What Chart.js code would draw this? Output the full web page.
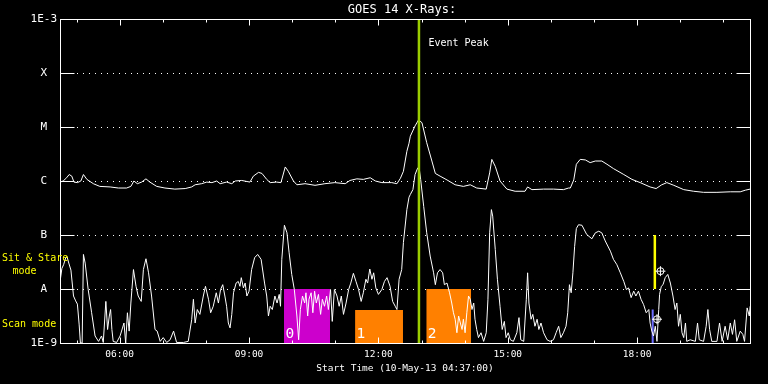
<!DOCTYPE html>
<html><head><meta charset="utf-8">
<script src="https://cdn.jsdelivr.net/npm/chart.js"></script>
<style>html,body{margin:0;padding:0;background:#000;overflow:hidden}</style>
</head><body>
<canvas id="c" width="768" height="384"></canvas>
<script>
// ---- axis definitions ----
const startHour = 4 + 37/60;           // 04:37
const endHour = startHour + 16;
const yLevels = [-9, -8, -7, -6, -5, -4, -3];   // log10 flux (W/m^2)
const yLabels = ['1E-9', 'A', 'B', 'C', 'M', 'X', '1E-3'];
const xTickHours = [6, 9, 12, 15, 18];
const xTickLabels = ['06:00', '09:00', '12:00', '15:00', '18:00'];
const titleText = 'GOES 14 X-Rays:';
const xAxisTitle = 'Start Time (10-May-13 04:37:00)';

// ---- 1-8 A channel (upper curve): hour of day, log10 flux ----
const longTimes = [4.62,4.69,4.77,4.83,4.89,4.94,5.02,5.10,5.16,5.24,5.39,5.54,5.78,5.97,6.16,6.26,6.33,6.41,6.51,6.61,6.70,6.86,7.05,7.28,7.52,7.67,7.75,7.90,8.02,8.14,8.25,8.33,8.48,8.60,8.68,8.83,9.02,9.10,9.22,9.30,9.41,9.49,9.64,9.74,9.84,9.91,10.03,10.11,10.30,10.53,10.76,10.99,11.23,11.34,11.50,11.65,11.81,11.93,12.08,12.31,12.43,12.51,12.58,12.66,12.71,12.74,12.85,12.93,13.01,13.12,13.24,13.32,13.43,13.59,13.78,13.97,14.13,14.28,14.50,14.58,14.63,14.71,14.82,14.98,15.17,15.40,15.46,15.56,15.83,16.06,16.29,16.41,16.45,16.53,16.59,16.68,16.80,16.91,17.03,17.18,17.30,17.45,17.69,17.88,18.07,18.30,18.44,18.57,18.69,18.85,19.08,19.31,19.54,19.85,20.16,20.39,20.51,20.62];
const longLog = [-6.02,-6.00,-5.94,-5.88,-5.91,-6.02,-6.03,-6.00,-5.88,-5.97,-6.05,-6.10,-6.11,-6.13,-6.13,-6.10,-6.00,-6.05,-6.02,-5.96,-6.02,-6.10,-6.13,-6.15,-6.14,-6.11,-6.07,-6.05,-6.02,-6.03,-6.00,-6.05,-6.02,-6.05,-6.00,-5.99,-6.02,-5.91,-5.84,-5.86,-5.97,-6.03,-6.02,-6.03,-5.74,-5.82,-6.00,-6.07,-6.05,-6.08,-6.05,-6.03,-6.05,-5.99,-5.96,-5.97,-5.94,-6.00,-6.03,-6.03,-6.05,-5.95,-5.82,-5.45,-5.30,-5.17,-4.98,-4.87,-4.92,-5.29,-5.63,-5.86,-5.91,-5.98,-6.07,-6.10,-6.07,-6.13,-6.15,-5.85,-5.60,-5.73,-6.00,-6.15,-6.19,-6.19,-6.11,-6.16,-6.15,-6.15,-6.16,-6.13,-6.13,-5.98,-5.69,-5.60,-5.61,-5.66,-5.63,-5.63,-5.69,-5.77,-5.88,-5.97,-6.03,-6.11,-6.14,-6.07,-6.03,-6.08,-6.16,-6.19,-6.21,-6.21,-6.20,-6.20,-6.17,-6.15];

// ---- 0.5-4 A channel (lower curve): hour of day, log10 flux ----
const shortTimes = [4.62,4.66,4.70,4.75,4.78,4.82,4.87,4.93,4.98,5.02,5.06,5.09,5.13,5.16,5.20,5.27,5.35,5.43,5.51,5.58,5.62,5.68,5.72,5.76,5.79,5.82,5.85,5.93,6.01,6.10,6.14,6.18,6.22,6.26,6.32,6.38,6.43,6.50,6.55,6.61,6.67,6.74,6.82,6.87,6.94,7.01,7.09,7.17,7.25,7.32,7.48,7.59,7.67,7.71,7.75,7.80,7.86,7.94,7.99,8.06,8.11,8.17,8.24,8.29,8.34,8.39,8.44,8.48,8.52,8.56,8.60,8.64,8.70,8.75,8.79,8.82,8.87,8.91,8.95,9.00,9.06,9.13,9.20,9.28,9.36,9.41,9.45,9.49,9.54,9.60,9.65,9.70,9.73,9.76,9.82,9.88,9.93,9.99,10.05,10.11,10.15,10.19,10.24,10.29,10.32,10.36,10.39,10.44,10.48,10.52,10.56,10.61,10.66,10.70,10.75,10.80,10.84,10.89,10.93,10.98,11.04,11.09,11.14,11.19,11.25,11.31,11.36,11.42,11.48,11.54,11.60,11.65,11.71,11.75,11.80,11.85,11.89,11.94,12.00,12.08,12.14,12.20,12.27,12.33,12.39,12.43,12.48,12.54,12.58,12.66,12.71,12.74,12.80,12.85,12.91,12.95,12.98,13.05,13.12,13.20,13.28,13.32,13.37,13.43,13.49,13.53,13.59,13.65,13.70,13.74,13.78,13.82,13.86,13.90,13.94,13.97,14.01,14.05,14.09,14.13,14.17,14.21,14.24,14.28,14.32,14.38,14.44,14.50,14.54,14.58,14.62,14.65,14.71,14.76,14.82,14.87,14.92,14.96,15.01,15.06,15.13,15.21,15.26,15.30,15.37,15.43,15.46,15.49,15.54,15.58,15.63,15.68,15.72,15.77,15.83,15.91,15.98,16.06,16.12,16.18,16.23,16.29,16.35,16.39,16.43,16.47,16.51,16.55,16.59,16.64,16.72,16.83,16.95,17.03,17.11,17.18,17.26,17.38,17.45,17.53,17.61,17.69,17.75,17.80,17.86,17.92,17.97,18.03,18.09,18.15,18.21,18.27,18.30,18.34,18.38,18.42,18.46,18.50,18.52,18.56,18.60,18.65,18.71,18.77,18.83,18.88,18.92,18.96,19.00,19.04,19.08,19.12,19.15,19.23,19.35,19.40,19.44,19.54,19.60,19.64,19.68,19.73,19.85,19.91,19.97,20.04,20.10,20.16,20.21,20.26,20.31,20.39,20.45,20.49,20.55,20.60,20.62];
const shortLog = [-7.85,-7.62,-7.55,-7.42,-7.40,-7.52,-7.65,-8.13,-8.22,-8.28,-8.65,-9.0,-9.0,-7.36,-7.52,-8.01,-8.44,-8.87,-8.97,-8.87,-8.99,-8.23,-8.75,-8.50,-8.38,-8.75,-8.97,-8.99,-8.87,-8.63,-9.0,-8.44,-8.78,-8.26,-7.64,-7.95,-8.13,-8.23,-7.64,-7.44,-7.70,-8.13,-8.75,-8.78,-8.97,-8.90,-8.99,-8.94,-8.78,-8.99,-8.99,-8.97,-8.57,-8.19,-8.63,-8.38,-8.47,-8.13,-7.95,-8.19,-8.44,-8.32,-8.07,-8.26,-8.01,-7.92,-8.13,-8.32,-8.63,-8.72,-8.47,-8.07,-7.89,-7.86,-7.95,-7.79,-7.98,-7.89,-8.13,-8.04,-7.64,-7.42,-7.36,-7.45,-7.89,-8.13,-8.50,-8.32,-8.38,-8.13,-8.26,-8.10,-8.32,-7.45,-6.82,-6.96,-7.33,-7.73,-8.01,-8.50,-8.94,-8.38,-8.13,-8.26,-8.07,-8.50,-8.19,-8.07,-8.44,-8.04,-8.26,-8.10,-8.47,-8.19,-8.32,-8.13,-8.38,-8.01,-8.60,-8.01,-8.13,-8.32,-8.13,-8.47,-8.26,-8.01,-7.89,-7.71,-7.86,-8.01,-8.23,-8.07,-7.82,-7.89,-7.63,-7.82,-7.70,-7.98,-8.10,-8.01,-7.86,-7.79,-7.95,-8.23,-8.32,-8.38,-7.82,-7.64,-7.14,-6.53,-6.30,-6.25,-6.16,-5.88,-5.76,-5.79,-5.97,-6.47,-6.96,-7.39,-7.70,-7.92,-7.70,-7.64,-7.70,-7.92,-7.89,-8.07,-8.26,-8.44,-8.56,-8.81,-8.50,-8.63,-8.75,-8.56,-8.81,-8.44,-8.13,-8.19,-8.38,-8.26,-8.56,-8.75,-8.90,-8.81,-8.97,-8.81,-8.19,-6.96,-6.53,-6.65,-7.27,-7.82,-8.32,-8.75,-8.60,-8.90,-8.81,-8.94,-8.97,-8.81,-8.53,-8.94,-8.97,-8.19,-7.70,-8.26,-8.56,-8.47,-8.69,-8.56,-8.75,-8.63,-8.81,-8.94,-8.97,-8.94,-8.81,-8.69,-8.90,-8.81,-8.69,-8.44,-7.92,-8.07,-7.70,-7.21,-6.88,-6.81,-6.82,-6.99,-7.07,-6.96,-6.93,-6.96,-7.11,-7.30,-7.45,-7.55,-7.70,-7.86,-8.01,-7.98,-8.16,-8.04,-8.13,-8.04,-8.19,-8.29,-8.44,-8.38,-8.63,-8.78,-8.87,-8.69,-8.97,-8.38,-8.10,-7.95,-7.92,-7.79,-7.73,-7.89,-8.13,-8.38,-8.26,-8.69,-8.47,-8.81,-8.90,-8.63,-8.97,-8.94,-8.97,-8.63,-8.94,-8.97,-8.69,-8.38,-8.75,-8.97,-8.97,-8.63,-8.97,-8.69,-8.94,-8.63,-8.84,-8.57,-8.97,-8.78,-8.84,-8.97,-8.35,-8.50,-8.32];

// ---- annotations ----
const eventPeakHour = 12.94;
const eventLabel = 'Event Peak';
const boxStarts = [9.81, 11.46, 13.11];
const boxEnds = [10.88, 12.57, 14.15];
const boxTops = [-8.0, -8.39, -8.0];
const boxLabels = ['0', '1', '2'];
const boxColors = ['#cc00cc', '#ff8000', '#ff8000'];
const sitStareHour = 18.41, sitStareRange = [-7.0, -8.0];
const scanHour = 18.36, scanRange = [-8.38, -9.0];
const markerTimes = [18.54, 18.46];
const markerLog = [-7.67, -8.56];

const MONO = '"DejaVu Sans Mono", monospace';
const pts = (xs, ys) => xs.map((x, i) => ({x: x, y: ys[i]}));

const datasets = [];
boxStarts.forEach((s, i) => datasets.push({
  data: [{x: s, y: boxTops[i]}, {x: boxEnds[i], y: boxTops[i]}],
  fill: 'start', backgroundColor: boxColors[i], borderColor: 'rgba(0,0,0,0)', borderWidth: 0,
  pointRadius: 0, order: 10
}));
datasets.push({data: [{x: scanHour, y: scanRange[0]}, {x: scanHour, y: scanRange[1]}],
  borderColor: '#6f6fff', borderWidth: 2, pointRadius: 0, fill: false, order: 9});
datasets.push({data: pts(longTimes, longLog), borderColor: '#ffffff', borderWidth: 1, pointRadius: 0, fill: false, tension: 0, order: 5});
datasets.push({data: pts(shortTimes, shortLog), borderColor: '#ffffff', borderWidth: 1, pointRadius: 0, fill: false, tension: 0, order: 5});
datasets.push({data: [{x: sitStareHour, y: sitStareRange[0]}, {x: sitStareHour, y: sitStareRange[1]}],
  borderColor: '#ffff00', borderWidth: 2.5, pointRadius: 0, fill: false, order: 2});
datasets.push({data: [{x: eventPeakHour, y: -9}, {x: eventPeakHour, y: -3}],
  borderColor: '#9acd00', borderWidth: 2.5, pointRadius: 0, fill: false, order: 1});
datasets.push({type: 'scatter', data: pts(markerTimes, markerLog), showLine: false,
  pointStyle: 'circle', pointRadius: 3.5, pointBorderColor: '#fff', pointBackgroundColor: 'rgba(0,0,0,0)', pointBorderWidth: 1, order: 0});
datasets.push({type: 'scatter', data: pts(markerTimes, markerLog), showLine: false,
  pointStyle: 'cross', pointRadius: 5, pointBorderColor: '#fff', pointBorderWidth: 1, order: 0});

const decor = {
  id: 'decor',
  beforeDraw(chart) {
    const {ctx, width, height} = chart;
    ctx.save(); ctx.fillStyle = '#000'; ctx.fillRect(0, 0, width, height); ctx.restore();
  },
  beforeDatasetsDraw(chart) {
    const {ctx, chartArea: a, scales: {y}} = chart;
    ctx.save();
    ctx.strokeStyle = '#fff'; ctx.lineWidth = 1; ctx.setLineDash([1, 5]);
    yLevels.slice(1, -1).forEach(v => {
      const py = Math.round(y.getPixelForValue(v)) + 0.5;
      ctx.beginPath(); ctx.moveTo(a.left + 17, py); ctx.lineTo(a.right - 14, py); ctx.stroke();
    });
    ctx.restore();
  },
  afterDatasetsDraw(chart) {
    const {ctx, chartArea: a, scales: {x, y}} = chart;
    ctx.save();
    ctx.strokeStyle = '#fff'; ctx.lineWidth = 1;
    const L = a.left + 0.5, R = Math.round(a.right) + 0.5, T = a.top + 0.5, B = Math.round(a.bottom) + 0.5;
    ctx.strokeRect(L, T, R - L, B - T);
    ctx.beginPath();
    yLevels.forEach(v => {
      const py = Math.round(y.getPixelForValue(v)) + 0.5;
      ctx.moveTo(L, py); ctx.lineTo(L + 14, py);
      ctx.moveTo(R, py); ctx.lineTo(R - 14, py);
    });
    for (let h = Math.ceil(startHour); h <= endHour; h++) {
      const px = Math.round(x.getPixelForValue(h)) + 0.5;
      const len = (h % 3 === 0) ? 6 : 3;
      ctx.moveTo(px, T); ctx.lineTo(px, T + len);
      ctx.moveTo(px, B); ctx.lineTo(px, B - len);
    }
    ctx.stroke();

    // title
    ctx.fillStyle = '#fff';
    ctx.font = '12px ' + MONO; ctx.textAlign = 'center'; ctx.textBaseline = 'middle';
    ctx.fillText(titleText, (a.left + a.right) / 2 - 3, 9.5);
    // event peak label
    ctx.font = '10px ' + MONO; ctx.textAlign = 'left';
    ctx.fillText(eventLabel, x.getPixelForValue(eventPeakHour) + 9.5, a.top + 24);
    // box numbers
    ctx.font = '14.5px ' + MONO; ctx.textBaseline = 'alphabetic';
    boxStarts.forEach((s, i) => ctx.fillText(boxLabels[i], x.getPixelForValue(s) + 1.5, y.getPixelForValue(-9) - 5));
    // mode labels
    ctx.fillStyle = '#ffff00'; ctx.font = '10px ' + MONO; ctx.textBaseline = 'middle';
    const ss = y.getPixelForValue((sitStareRange[0] + sitStareRange[1]) / 2);
    ctx.textAlign = 'left';
    ctx.fillText('Sit & Stare', 2, ss - 3.5);
    ctx.textAlign = 'center';
    ctx.fillText('mode', 24.5, ss + 9.5);
    ctx.textAlign = 'left';
    ctx.fillText('Scan mode', 2, y.getPixelForValue((scanRange[0] + scanRange[1]) / 2) - 2);
    ctx.restore();
  }
};

new Chart(document.getElementById('c'), {
  type: 'line',
  data: {datasets: datasets},
  options: {
    responsive: false, animation: false, devicePixelRatio: 1,
    layout: {padding: {left: 0, right: 18, top: 19, bottom: 0}},
    plugins: {legend: {display: false}, tooltip: {enabled: false}, title: {display: false}},
    scales: {
      x: {
        type: 'linear', min: startHour, max: endHour,
        grid: {display: false, drawTicks: false}, border: {display: false},
        afterBuildTicks: s => { s.ticks = xTickHours.map(v => ({value: v})); },
        afterFit: s => { s.height = 41; },
        ticks: {color: '#fff', font: {family: MONO, size: 9.5}, padding: 6, autoSkip: false, maxRotation: 0,
          callback: (v, i) => xTickLabels[i]},
        title: {display: true, text: xAxisTitle, color: '#fff', font: {family: MONO, size: 9.5}, padding: {top: 0, bottom: 10}}
      },
      y: {
        type: 'linear', min: -9, max: -3,
        grid: {display: false, drawTicks: false}, border: {display: false},
        afterBuildTicks: s => { s.ticks = yLevels.map(v => ({value: v})); },
        afterFit: s => { s.width = 60; },
        ticks: {color: '#fff', font: {family: MONO, size: 11}, padding: 3, crossAlign: 'center', autoSkip: false,
          callback: (v, i) => yLabels[i]}
      }
    }
  },
  plugins: [decor]
});
</script>
</body></html>
